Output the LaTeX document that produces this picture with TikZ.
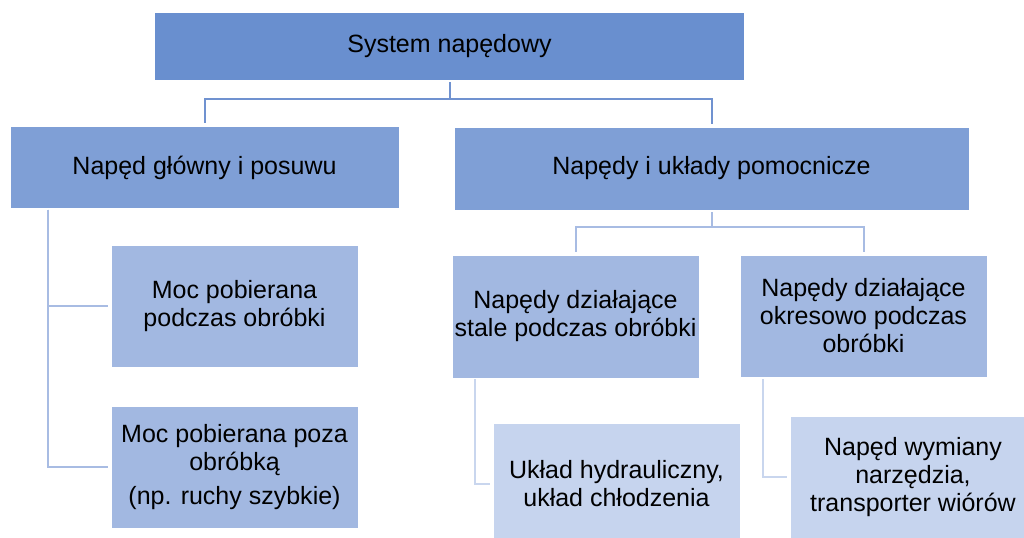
\documentclass[tikz,border=0pt]{standalone}
\usepackage{fontspec}
\setmainfont{Liberation Sans}
\definecolor{cA}{RGB}{105,143,207}
\definecolor{cB}{RGB}{127,159,214}
\definecolor{cC}{RGB}{162,184,225}
\definecolor{cD}{RGB}{198,212,238}
\definecolor{lA}{RGB}{112,146,208}
\definecolor{lB}{RGB}{168,188,227}
\definecolor{lC}{RGB}{201,214,238}
\tikzset{
  box/.style={rectangle, draw=white, line width=0.6pt, inner sep=0pt, align=center,
    font=\fontsize{18.75}{21}\selectfont, text=black},
  conn/.style={line width=1.5pt, draw=lA},
  connB/.style={line width=1.5pt, draw=lB},
  connC/.style={line width=1.5pt, draw=lC},
}
\begin{document}
\begin{tikzpicture}[x=0.75pt,y=-0.75pt]
\clip (0,0) rectangle (1024,537);
\fill[white] (0,0) rectangle (1024,537);
\node[box, fill=cA, minimum width=442.5pt, minimum height=51pt] (sys) at (449.5,46) {System napędowy};
\node[box, fill=cB, minimum width=291.75pt, minimum height=61.5pt] (main) at (204.5,167.5) {Napęd główny i posuwu};
\node[box, fill=cB, minimum width=386.25pt, minimum height=62.25pt] (aux) at (711.5,168.5) {Napędy i układy pomocnicze};
\node[box, fill=cC, minimum width=185.25pt, minimum height=91.5pt] (moc1) at (234.5,306) {Moc pobierana\\podczas obróbki};
\node[box, fill=cC, minimum width=185.25pt, minimum height=91.5pt] (moc2) at (234.5,467) {Moc pobierana poza\\obróbką\\[4.5pt](np. ruchy szybkie)};
\node[box, fill=cC, minimum width=185.25pt, minimum height=92.25pt] (stale) at (575.5,316.5) {Napędy działające\\stale podczas obróbki};
\node[box, fill=cC, minimum width=185.25pt, minimum height=91.5pt] (okres) at (863.5,316) {Napędy działające\\okresowo podczas\\obróbki};
\node[box, fill=cD, minimum width=185.25pt, minimum height=91.5pt] (ukl) at (616.5,484) {Układ hydrauliczny,\\układ chłodzenia};
\node[box, fill=cD, minimum width=184.5pt, minimum height=91.5pt] (wym) at (913,477) {Napęd wymiany\\narzędzia,\\transporter wiórów};
% level 1 connectors
\coordinate (j1) at (449.5,99);
\draw[conn, shorten <=1.5pt] (sys.south) -- (j1);
\draw[conn, shorten >=2pt] (j1) -| (main.north);
\draw[conn, shorten >=2pt] (j1) -| (aux.north);
% level 2 right connectors
\coordinate (j2) at (711.5,227);
\draw[connB, shorten <=1.5pt] (aux.south) -- (j2);
\draw[connB, shorten >=2pt] (j2) -| (stale.north);
\draw[connB, shorten >=2pt] (j2) -| (okres.north);
% left connectors
\coordinate (l0) at (48,209.5);
\draw[connB, shorten >=2pt] (l0) |- (moc1.west);
\draw[connB, shorten >=2pt] (l0) |- (moc2.west);
% level 3 connectors
\coordinate (s0) at (475,379);
\coordinate (o0) at (763,379);
\draw[connC, shorten >=2pt] (s0) |- (ukl.west);
\draw[connC, shorten >=2pt] (o0) |- (wym.west);
\end{tikzpicture}
\end{document}
